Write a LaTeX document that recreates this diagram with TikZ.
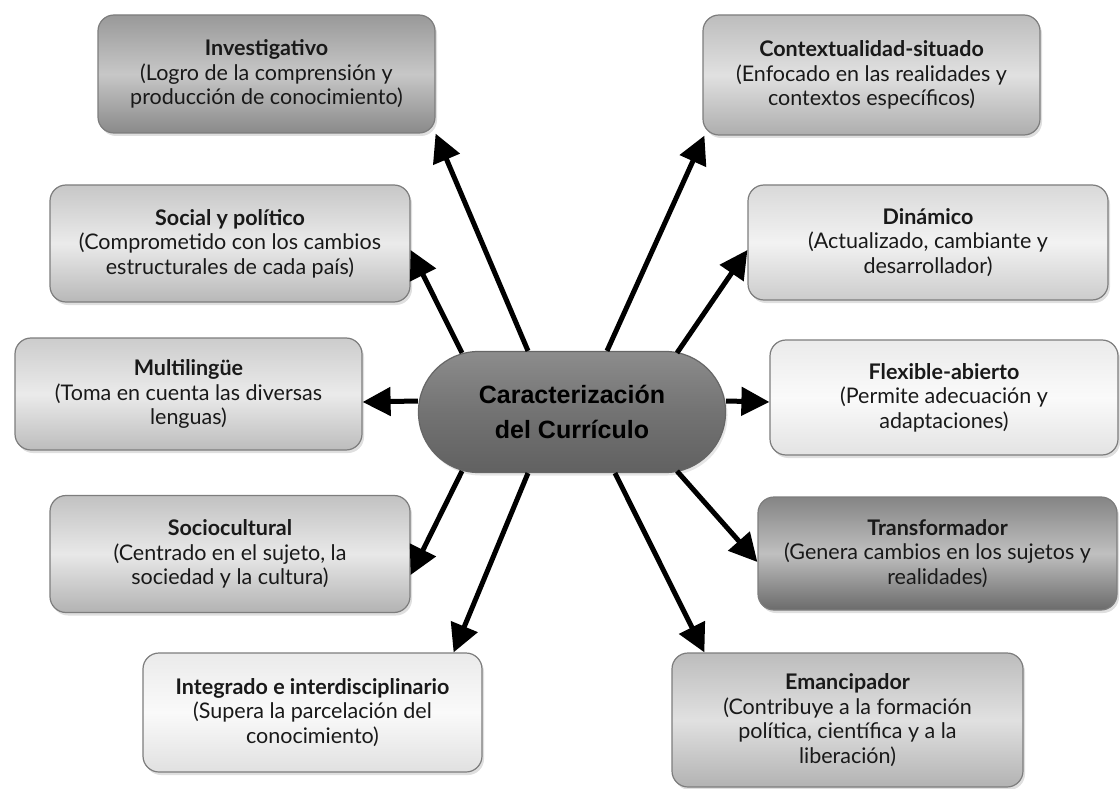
\documentclass[tikz,border=0pt]{standalone}
\usepackage{fontspec}
\usepackage{tikz}
\usetikzlibrary{arrows.meta,shadows}
\newfontfamily\cajafont{Lato}
\newfontfamily\centrofont{Liberation Sans}
\definecolor{borde}{RGB}{125,125,125}
\definecolor{textocaja}{RGB}{25,25,25}
\tikzset{
          caja/.style={
            rectangle,
            rounded corners=16pt,
            draw=borde,
            line width=1.2pt,
            align=center,
            inner sep=4pt,
            text=textocaja,
            font=\cajafont\fontsize{21.5}{24.5}\selectfont,
            drop shadow={opacity=0.25,shadow xshift=2pt,shadow yshift=-3pt}
          },
          tono/.style n args={3}{top color=#1,bottom color=#3,middle color=#2},
          centro/.style={
            rectangle,
            rounded corners=60pt,
            draw=black!60,
            line width=1.2pt,
            minimum width=307pt,
            minimum height=121pt,
            align=center,
            top color=black!45,bottom color=black!62,middle color=black!55,
            font=\centrofont\bfseries\fontsize{25}{35}\selectfont,
            drop shadow={opacity=0.2,shadow xshift=2pt,shadow yshift=-3pt}
          },
          flecha/.style={line width=5pt,-{Triangle[length=28pt,width=28pt]}}
        }
\newcommand\Caja[7]{%
          \node[caja,#6,minimum width=#4pt,minimum height=#5pt]
          (#1) at (#2,#3) {#7};
        }
\begin{document}
\begin{tikzpicture}[x=1pt,y=-1pt]
            \useasboundingbox (0,0) rectangle (1120,789);

            % left column
            \Caja{inv}{266.5}{74}{337}{118}{tono={black!40}{black!22}{black!46}}
              {\bfseries Investigativo\\(Logro de la comprensión y\\producción de conocimiento)}
            \Caja{soc}{230}{243.5}{360}{117}{tono={black!22}{black!8}{black!28}}
              {\bfseries Social y político\\(Comprometido con los cambios\\estructurales de cada país)}
            \Caja{mul}{188.5}{394}{347}{112}{tono={black!20}{black!8}{black!26}}
              {\bfseries Multilingüe\\(Toma en cuenta las diversas\\lenguas)}
            \Caja{scul}{230}{554}{360}{117}{tono={black!24}{black!9}{black!30}}
              {\bfseries Sociocultural\\(Centrado en el sujeto, la\\sociedad y la cultura)}
            \Caja{integ}{312.5}{712.5}{339}{119}{tono={black!8}{black!2}{black!12}}
              {\bfseries Integrado e interdisciplinario\\(Supera la parcelación del\\conocimiento)}

            % right column
            \Caja{ctx}{871.5}{75}{337}{120}{tono={black!26}{black!12}{black!32}}
              {\bfseries Contextualidad-situado\\(Enfocado en las realidades y\\contextos específicos)}
            \Caja{din}{928}{242.5}{360}{115}{tono={black!15}{black!5}{black!20}}
              {\bfseries Dinámico\\(Actualizado, cambiante y\\desarrollador)}
            \Caja{flex}{944}{397.5}{348}{115}{tono={black!8}{black!2}{black!11}}
              {\bfseries Flexible-abierto\\(Permite adecuación y\\adaptaciones)}
            \Caja{trans}{937.5}{553.5}{359}{113}{tono={black!48}{black!25}{black!58}}
              {\bfseries Transformador\\(Genera cambios en los sujetos y\\realidades)}
            \Caja{eman}{847.5}{720}{351}{134}{tono={black!26}{black!12}{black!30}}
              {\bfseries Emancipador\\(Contribuye a la formación\\política, científica y a la\\liberación)}

            % centre
            \node[centro] (cen) at (572,412) {Caracterización\\del Currículo};

            \draw[flecha] ([xshift=-44pt]cen.north) -- (inv.south east);
            \draw[flecha] ([xshift=-110pt,yshift=-2pt]cen.north) -- ([yshift=-6.5pt]soc.east);
            \draw[flecha] ([yshift=11pt]cen.west) -- ([yshift=-8pt]mul.east);
            \draw[flecha] ([xshift=-110pt,yshift=2pt]cen.south) -- ([yshift=-21pt]scul.east);
            \draw[flecha] ([xshift=-44pt]cen.south) -- ([xshift=-29pt]integ.north east);
            \draw[flecha] ([xshift=35pt]cen.north) -- ([xshift=2pt]ctx.south west);
            \draw[flecha] ([xshift=105pt,yshift=-2pt]cen.north) -- ([yshift=-7.5pt]din.west);
            \draw[flecha] ([yshift=11pt]cen.east) -- ([yshift=-4.5pt]flex.west);
            \draw[flecha] ([xshift=105pt,yshift=2pt]cen.south) -- ([yshift=-8.5pt]trans.west);
            \draw[flecha] ([xshift=43pt]cen.south) -- ([xshift=33pt]eman.north west);
          \end{tikzpicture}
\end{document}
